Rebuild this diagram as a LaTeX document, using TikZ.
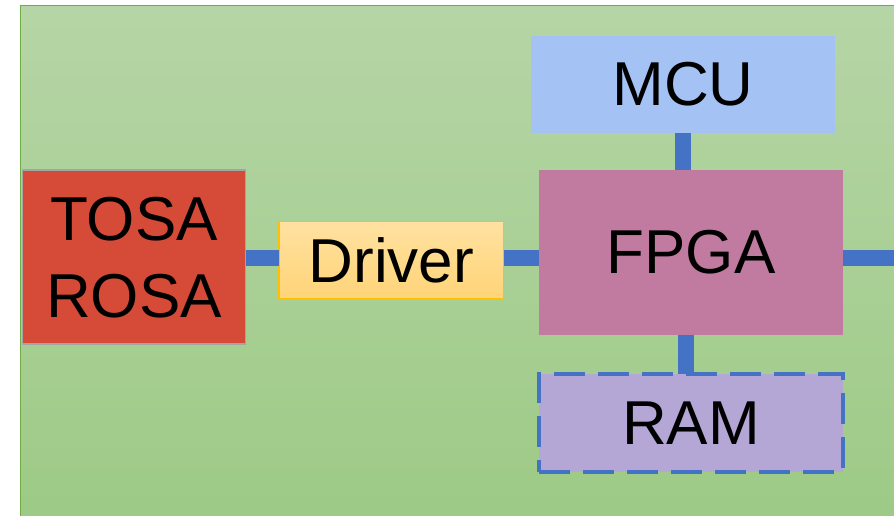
\documentclass[tikz,border=0pt]{standalone}
\usepackage{fontspec}
\setmainfont{Liberation Sans}
\definecolor{bgtop}{RGB}{182,213,166}
\definecolor{bgbot}{RGB}{157,202,134}
\definecolor{bgborder}{RGB}{112,173,71}
\definecolor{tosafill}{RGB}{214,74,56}
\definecolor{tosaborder}{RGB}{165,165,165}
\definecolor{drvtop}{RGB}{255,225,160}
\definecolor{drvbot}{RGB}{255,212,120}
\definecolor{drvborder}{RGB}{255,192,0}
\definecolor{fpgafill}{RGB}{194,123,160}
\definecolor{mcufill}{RGB}{164,194,244}
\definecolor{ramfill}{RGB}{180,167,214}
\definecolor{linkblue}{RGB}{68,114,196}
\begin{document}
\begin{tikzpicture}[x=1pt,y=-1pt,
  block/.style={rectangle,inner sep=0pt,outer sep=0pt,align=center,
    font=\fontsize{62}{77}\selectfont},
  link/.style={draw=linkblue,line width=16pt}]
\useasboundingbox (0,0) rectangle (894,515);
% background board
\shade[top color=bgtop,bottom color=bgbot] (20.5,5.5) rectangle (900,520);
\draw[bgborder,line width=1.5pt] (20.5,520) -- (20.5,5.5) -- (900,5.5);
% blocks
\node[block,fill=tosafill,draw=tosaborder,line width=1.5pt,
  minimum width=223pt,minimum height=174pt] (tosa) at (134,257.2) {TOSA\\ROSA};
\node[block,top color=drvtop,bottom color=drvbot,draw=drvborder,line width=1.5pt,
  minimum width=224.6pt,minimum height=77.3pt] (driver) at (391.3,260.3) {Driver};
\node[block,fill=fpgafill,minimum width=304pt,minimum height=164.5pt] (fpga) at (691,252.4) {FPGA};
\node[block,fill=mcufill,minimum width=304pt,minimum height=97pt] (mcu) at (683,84.5) {MCU};
\node[block,fill=ramfill,draw=linkblue,line width=3.5pt,dash pattern=on 31pt off 13pt,
  minimum width=304pt,minimum height=97.7pt] (ram) at (691,422.9) {RAM};
% links
\coordinate (bus) at (0,257.5);
\coordinate (outR) at (894,257.5);
\draw[link] (tosa.east |- bus) -- (driver.west |- bus);
\draw[link] (driver.east |- bus) -- (fpga.west |- bus);
\draw[link] (fpga.east |- bus) -- (outR);
\draw[link] (mcu.south) -- (mcu.south |- fpga.north);
\draw[link] ([xshift=-5.5pt]fpga.south) -- ([xshift=-5.5pt]fpga.south |- ram.north);
\end{tikzpicture}
\end{document}
